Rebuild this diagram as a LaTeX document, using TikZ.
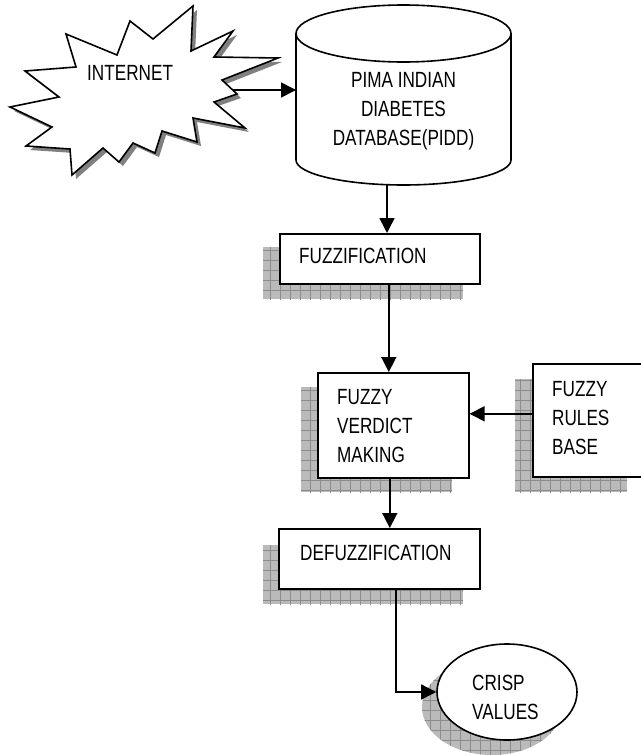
\documentclass[tikz,border=0pt]{standalone}
\usepackage{fontspec}
\setmainfont{Liberation Sans}[FakeStretch=0.78]
\usetikzlibrary{arrows.meta,shapes.geometric}
\tikzset{
  boxnode/.style={draw=black, line width=1.6pt, fill=white, anchor=north west, inner sep=0pt},
  lbl/.style={inner sep=0pt, font=\fontsize{22}{29}\selectfont, align=left},
  arr/.style={line width=1.6pt, -{Triangle[length=15pt,width=15pt]}},
  plain/.style={line width=1.6pt},
  shadowfill/.style={fill=black!27},
  shadowgrid/.style={draw=black!45, line width=0.5pt, step=10pt},
}
\newcommand{\gshadow}[2]{%
  \begin{scope}
    \clip #1 rectangle #2;
    \fill[shadowfill] #1 rectangle #2;
    \draw[shadowgrid] (0pt,0pt) grid (640pt,-755pt);
  \end{scope}}
\begin{document}
\begin{tikzpicture}[x=1pt,y=-1pt]
\useasboundingbox[fill=white] (0,0) rectangle (640,755);

% ---------- INTERNET starburst ----------
\def\starpath{(193,6) -- (191,51) -- (233,31) -- (214,57) -- (278,58) -- (222,80) -- (237,94) -- (214,102) -- (245,128) -- (193,118) -- (197,142) -- (162,131) -- (155,153) -- (133,143) -- (119,162) -- (103,148) -- (72,175) -- (70,149) -- (26,146) -- (52,127) -- (10,107) -- (59,97) -- (25,71) -- (76,67) -- (66,34) -- (117,55) -- (130,21) -- (153,39) -- cycle}
\fill[black!50, shift={(4,4)}] \starpath;
\draw[plain, fill=white, line join=miter] \starpath;
\node[lbl, anchor=west] (inettext) at (87,73) {INTERNET};
\coordinate (inet) at (233,90);

% ---------- Database cylinder ----------
\fill[white] (296,33.5) -- (296,160) arc[start angle=180, end angle=0, x radius=107.5, y radius=25] -- (511,33.5) -- cycle;
\draw[plain] (296,33.5) -- (296,160) arc[start angle=180, end angle=0, x radius=107.5, y radius=25] -- (511,33.5);
\draw[plain, fill=white] (403.5,33.5) ellipse[x radius=107.5, y radius=28.5];
\node[lbl, align=center] (dbtext) at (403.5,111) {PIMA INDIAN\\DIABETES\\DATABASE(PIDD)};
\coordinate (dbleft) at (296,90);
\coordinate (dbbot) at (387,185);

% ---------- Shadows ----------
\gshadow{(263,247)}{(463,299)}
\gshadow{(301,387)}{(452,492)}
\gshadow{(515,379)}{(627,492)}
\gshadow{(263,545)}{(463,604)}
\begin{scope}
  \clip (492,707) ellipse[x radius=70, y radius=48];
  \fill[shadowfill] (400,640) rectangle (640,755);
  \draw[shadowgrid] (0pt,0pt) grid (640pt,-755pt);
\end{scope}

% ---------- Boxes ----------
\node[boxnode, minimum width=200pt, minimum height=50pt] (fuzz) at (279,233) {};
\node[lbl, anchor=west] (fuzztext) at (299,256) {FUZZIFICATION};

\node[boxnode, minimum width=151pt, minimum height=105pt] (verd) at (317,372) {};
\node[lbl, anchor=west] (verdtext) at (337,426) {FUZZY\\VERDICT\\MAKING};

\node[boxnode, minimum width=112pt, minimum height=113pt] (rules) at (532,363) {};
\node[lbl, anchor=west] (rulestext) at (552,418) {FUZZY\\RULES\\BASE};

\node[boxnode, minimum width=201pt, minimum height=60pt] (defuzz) at (278,528) {};
\node[lbl, anchor=west] (defuzztext) at (300,553) {DEFUZZIFICATION};

\node[draw=black, line width=1.6pt, fill=white, ellipse, minimum width=140pt, minimum height=96pt, inner sep=0pt] (crisp) at (507,692) {};
\node[lbl, anchor=west] (crisptext) at (472,697) {CRISP\\VALUES};

% ---------- Connectors ----------
\draw[arr] (inet) -- (dbleft);
\draw[arr] (dbbot) -- (dbbot |- fuzz.north);
\draw[arr] ([xshift=9pt]fuzz.south) -- ([xshift=9pt]fuzz.south |- verd.north);
\draw[arr] ([yshift=6.5pt]rules.west) -- ([yshift=6.5pt]rules.west -| verd.east);
\draw[arr] ([xshift=-3.5pt]verd.south) -- ([xshift=-3.5pt]verd.south |- defuzz.north);
\draw[arr] ([xshift=16.5pt]defuzz.south) |- (crisp.west);
\end{tikzpicture}
\end{document}
